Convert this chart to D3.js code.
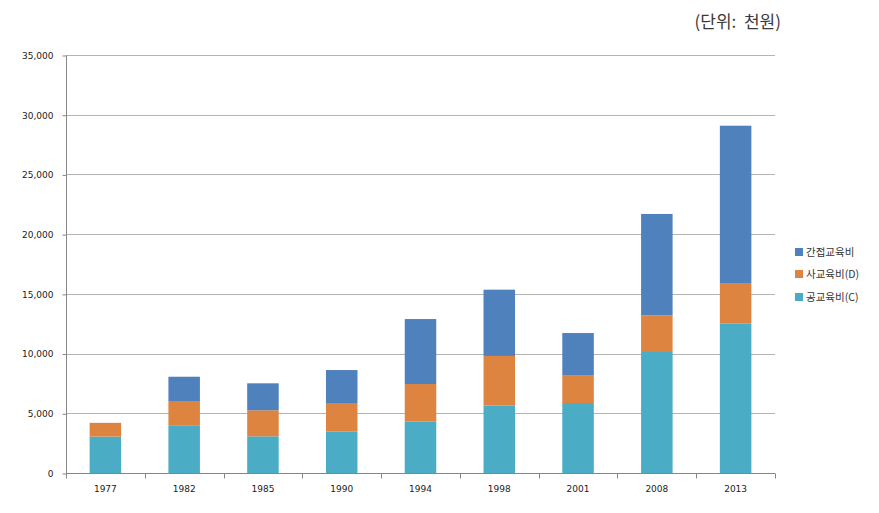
<!DOCTYPE html>
<html><head><meta charset="utf-8">
<script src="https://cdn.jsdelivr.net/npm/d3@7"></script>
<style>body{margin:0;background:#fff;}svg{display:block;}</style>
</head><body>
<svg id="chart" width="879" height="513"></svg>
<script>
const years = ["1977","1982","1985","1990","1994","1998","2001","2008","2013"];
const publicEdu = [3050, 4000, 3070, 3460, 4300, 5640, 5860, 10130, 12500];   // 공교육비(C)
const privateEdu = [1150, 2030, 2180, 2400, 3150, 4160, 2340, 3070, 3410];    // 사교육비(D)
const indirectEdu = [0, 2030, 2260, 2760, 5440, 5550, 3520, 8490, 13170];     // 간접교육비
const yTicks = [0, 5000, 10000, 15000, 20000, 25000, 30000, 35000];
const seriesNames = ["공교육비(C)", "사교육비(D)", "간접교육비"];
const seriesColors = ["#4BACC6", "#DD8440", "#4F81BD"];
const unitLabel = "(단위:  천원)";

const svg = d3.select("#chart");
const pLeft = 66, pRight = 775, pTop = 55, pBottom = 473;

const x = d3.scaleBand().domain(years).range([pLeft, pRight]).paddingInner(0.6).paddingOuter(0.3);
const y = d3.scaleLinear().domain([0, 35000]).range([pBottom, pTop]);

// gridlines
svg.append("g").selectAll("line").data(yTicks.filter(d => d > 0)).join("line")
  .attr("x1", pLeft).attr("x2", pRight)
  .attr("y1", d => Math.round(y(d)) + 0.5).attr("y2", d => Math.round(y(d)) + 0.5)
  .attr("stroke", "#b4b4b4").attr("stroke-width", 1);

// stacked data
const rows = years.map((yr, i) => ({year: yr, c: publicEdu[i], d: privateEdu[i], e: indirectEdu[i]}));
const stack = d3.stack().keys(["c", "d", "e"]);
const layers = stack(rows);

svg.append("g").selectAll("g").data(layers).join("g")
  .attr("fill", (d, i) => seriesColors[i])
  .selectAll("rect").data(d => d).join("rect")
  .attr("x", d => x(d.data.year))
  .attr("width", x.bandwidth())
  .attr("y", d => y(d[1]))
  .attr("height", d => Math.max(0, y(d[0]) - y(d[1])));

// y axis
const yAxis = d3.axisLeft(y).tickValues(yTicks).tickSize(4).tickPadding(9)
  .tickFormat(d3.format(","));
const ya = svg.append("g").attr("transform", `translate(${pLeft + 0.5},0.5)`).call(yAxis);
ya.select(".domain").attr("stroke", "#868686").attr("d", `M0,${pTop}V${pBottom}`);
ya.selectAll(".tick line").attr("stroke", "#868686");
ya.selectAll(".tick text").attr("fill", "#222").style("font-family", "DejaVu Sans, sans-serif").style("font-size", "9px");

// x axis
const xa = svg.append("g").attr("transform", `translate(0,${pBottom + 0.5})`);
xa.append("line").attr("x1", pLeft).attr("x2", pRight).attr("stroke", "#868686");
const bounds = d3.range(years.length + 1).map(i => pLeft + i * (pRight - pLeft) / years.length);
xa.selectAll("line.tk").data(bounds).join("line").attr("class", "tk")
  .attr("x1", d => Math.round(d) + 0.5).attr("x2", d => Math.round(d) + 0.5)
  .attr("y1", 0).attr("y2", 5).attr("stroke", "#868686");
xa.selectAll("text").data(years).join("text")
  .attr("x", d => x(d) + x.bandwidth() / 2).attr("y", 18)
  .attr("text-anchor", "middle").attr("fill", "#222")
  .style("font-family", "DejaVu Sans, sans-serif").style("font-size", "9px")
  .text(d => d);

// legend
const legendOrder = [2, 1, 0];
const lg = svg.append("g").attr("transform", "translate(795,0)");
legendOrder.forEach((si, k) => {
  const cy = [252, 274, 297][k];
  lg.append("rect").attr("x", 0).attr("y", cy - 4).attr("width", 8).attr("height", 8).attr("fill", seriesColors[si]);
  lg.append("text").attr("x", 11).attr("y", cy + 4).attr("fill", "#333")
    .style("font-family", "Noto Sans CJK KR, sans-serif").style("font-size", "10.5px")
    .text(seriesNames[si]);
});

// unit label
svg.append("text").attr("x", 781).attr("y", 28).attr("text-anchor", "end")
  .attr("fill", "#3a3a3a").style("font-family", "Noto Sans CJK KR, sans-serif").style("font-size", "17px")
  .style("white-space", "pre")
  .text(unitLabel);
</script>
</body></html>
